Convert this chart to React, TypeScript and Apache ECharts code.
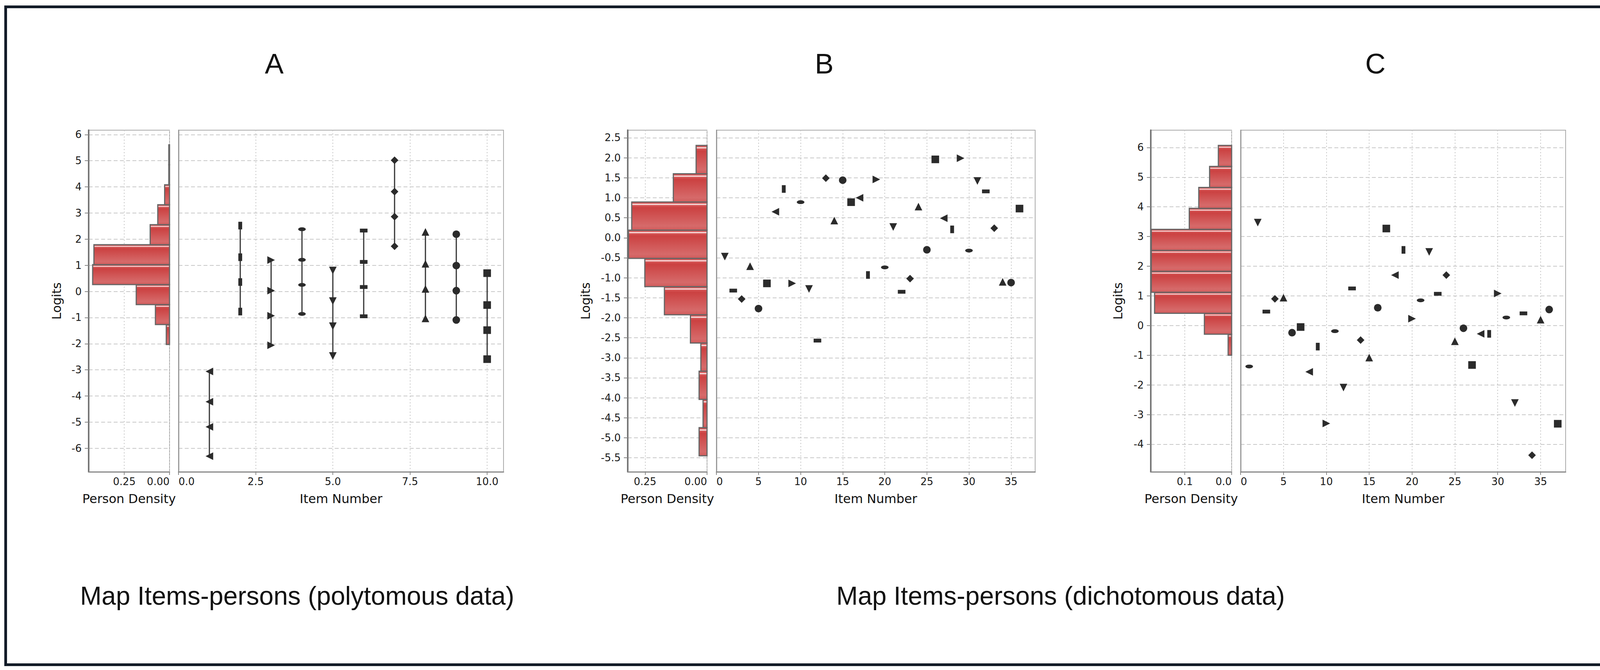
import React, { useEffect, useRef } from 'react';
import * as echarts from 'echarts';

// ---------------- DATA ----------------
// Panel A (polytomous): person density histogram
const histEdgesA = [-2.03, -1.266, -0.502, 0.262, 1.026, 1.79, 2.554, 3.318, 4.082, 4.846, 5.61];
const histDensityA = [0.018, 0.078, 0.184, 0.425, 0.418, 0.107, 0.065, 0.027, 0.004, 0.004];
// Panel A: item thresholds (4 per item)
const itemNumbersA = [1, 2, 3, 4, 5, 6, 7, 8, 9, 10];
const itemThresholdsA = [
  [-3.06, -4.22, -5.18, -6.3],
  [2.52, 1.31, 0.36, -0.77],
  [1.2, 0.03, -0.93, -2.06],
  [2.38, 1.21, 0.25, -0.86],
  [0.8, -0.37, -1.33, -2.47],
  [2.33, 1.13, 0.17, -0.95],
  [5.02, 3.82, 2.86, 1.73],
  [2.28, 1.06, 0.1, -1.03],
  [2.19, 0.99, 0.03, -1.09],
  [0.7, -0.52, -1.48, -2.59],
];

// Panel B (dichotomous)
const histEdgesB = [-5.45, -4.745, -4.04, -3.335, -2.63, -1.925, -1.22, -0.515, 0.19, 0.895, 1.6, 2.31];
const histDensityB = [0.032, 0.016, 0.032, 0.025, 0.067, 0.172, 0.251, 0.317, 0.304, 0.136, 0.044];
const itemNumbersB = [1, 2, 3, 4, 5, 6, 7, 8, 9, 10, 11, 12, 13, 14, 15, 16, 17, 18, 19, 20, 21, 22, 23, 24, 25, 26, 27, 28, 29, 30, 31, 32, 33, 34, 35, 36];
const logitsB = [-0.47, -1.32, -1.53, -0.71, -1.77, -1.14, 0.65, 1.22, -1.14, 0.89, -1.28, -2.57, 1.49, 0.43, 1.44, 0.89, 1.0, -0.93, 1.46, -0.74, 0.27, -1.35, -1.02, 0.78, -0.3, 1.96, 0.49, 0.21, 1.99, -0.32, 1.42, 1.16, 0.24, -1.1, -1.12, 0.73];

// Panel C (dichotomous)
const histEdgesC = [-1.0, -0.293, 0.414, 1.121, 1.828, 2.535, 3.242, 3.949, 4.656, 5.363, 6.07];
const histDensityC = [0.0075, 0.0582, 0.1646, 0.1716, 0.1716, 0.1716, 0.0905, 0.0702, 0.0471, 0.0284];
const itemNumbersC = [1, 2, 3, 4, 5, 6, 7, 8, 9, 10, 11, 12, 13, 14, 15, 16, 17, 18, 19, 20, 21, 22, 23, 24, 25, 26, 27, 28, 29, 30, 31, 32, 33, 34, 35, 36, 37];
const logitsC = [-1.38, 3.47, 0.47, 0.9, 0.94, -0.24, -0.05, -1.56, -0.71, -3.3, -0.19, -2.09, 1.25, -0.49, -1.08, 0.6, 3.27, 1.7, 2.55, 0.23, 0.85, 2.48, 1.07, 1.7, -0.53, -0.09, -1.33, -0.28, -0.28, 1.08, 0.27, -2.61, 0.41, -4.37, 0.2, 0.54, -3.31];

// Tick values
const yTicksA = [-6, -5, -4, -3, -2, -1, 0, 1, 2, 3, 4, 5, 6];
const yTicksB = [-5.5, -5, -4.5, -4, -3.5, -3, -2.5, -2, -1.5, -1, -0.5, 0, 0.5, 1, 1.5, 2, 2.5];
const yTicksC = [-4, -3, -2, -1, 0, 1, 2, 3, 4, 5, 6];
const densityTicksA = [0, 0.25];
const densityTicksB = [0, 0.25];
const densityTicksC = [0, 0.1];
const itemTicksA = [0, 2.5, 5, 7.5, 10];
const itemTicksB = [0, 5, 10, 15, 20, 25, 30, 35];
const itemTicksC = [0, 5, 10, 15, 20, 25, 30, 35];

// Axis ranges
const yRangeA = [-6.9, 6.17];
const yRangeB = [-5.85, 2.69];
const yRangeC = [-4.93, 6.585];
const densityMaxA = 0.447;
const densityMaxB = 0.32;
const densityMaxC = 0.1727;
const itemMaxA = 10.53;
const itemMaxB = 37.86;
const itemMaxC = 37.92;

// ---------------- STYLE ----------------
const AXIS_FONT = 'DejaVu Sans';
const TITLE_FONT = 'Liberation Sans';
const MARK = '#2b2b2b';
const S = 19.5;
const HS = 9.75;
const ELLIPSE = 'path://M-1,0A1,1,0,1,0,1,0A1,1,0,1,0,-1,0Z';
const SHAPE_SEQ = ['square', 'circle', 'upTri', 'diamond', 'hRect', 'downTri', 'hEllipse', 'rightTri', 'vRect', 'leftTri'];
const SHAPES: Record<string, [string, number[]]> = {
  square: ['rect', [S, S]],
  circle: [ELLIPSE, [S, S]],
  upTri: ['path://M0,-1L1,1L-1,1Z', [S, S]],
  diamond: ['path://M0,-1L1,0L0,1L-1,0Z', [S, S]],
  hRect: ['rect', [S, HS]],
  downTri: ['path://M-1,-1L1,-1L0,1Z', [S, S]],
  hEllipse: [ELLIPSE, [S, HS]],
  rightTri: ['path://M-1,-1L1,0L-1,1Z', [S, S]],
  vRect: ['rect', [HS, S]],
  leftTri: ['path://M1,-1L-1,0L1,1Z', [S, S]],
};
const shapeFor = (k: number, n: number) => SHAPES[SHAPE_SEQ[(n - k) % 10]];

const TOP = 333;
const HEIGHT = 874;
const panels = [
  { histLeft: 227, histW: 207, scLeft: 457, scW: 832 },
  { histLeft: 1607, histW: 203, scLeft: 1834, scW: 816 },
  { histLeft: 2946, histW: 207, scLeft: 3176, scW: 832 },
];

const barGradient = () =>
  new echarts.graphic.LinearGradient(0, 0, 0, 1, [
    { offset: 0, color: '#cf4545' },
    { offset: 0.05, color: '#d85c5c' },
    { offset: 0.085, color: '#ffffff' },
    { offset: 0.12, color: '#d65656' },
    { offset: 0.2, color: '#cb4141' },
    { offset: 0.85, color: '#d66a6a' },
    { offset: 1, color: '#d15a5a' },
  ]);

const hGrid = { color: '#c9c9c9', type: [10, 6], width: 2 };
const vGrid = { color: '#c9c9c9', type: [3, 5], width: 2 };
const labelStyle = { fontSize: 26, color: '#1a1a1a', fontFamily: AXIS_FONT };

function histAxisX(gi: number, max: number, ticks: number[], fmt: (v: number) => string) {
  return {
    gridIndex: gi, type: 'value', inverse: true, min: 0, max,
    axisLine: { show: true, onZero: false, lineStyle: { color: '#888', width: 3 } },
    axisTick: { show: true, customValues: ticks, length: 8, lineStyle: { color: '#888', width: 2 } },
    axisLabel: { show: true, customValues: ticks, formatter: fmt, margin: 12, alignMinLabel: 'right', ...labelStyle },
    splitLine: { show: true, lineStyle: vGrid },
  };
}
function histAxisY(gi: number, range: number[], ticks: number[], fmt: (v: number) => string) {
  return {
    gridIndex: gi, type: 'value', min: range[0], max: range[1],
    axisLine: { show: true, onZero: false, lineStyle: { color: '#777', width: 4 } },
    axisTick: { show: true, customValues: ticks, length: 10, lineStyle: { color: '#888', width: 2 } },
    axisLabel: { show: true, customValues: ticks, formatter: fmt, margin: 18, ...labelStyle },
    splitLine: { show: true, lineStyle: hGrid },
  };
}
function scAxisX(gi: number, max: number, ticks: number[], fmt: (v: number) => string) {
  return {
    gridIndex: gi, type: 'value', min: 0, max,
    axisLine: { show: true, onZero: false, lineStyle: { color: '#888', width: 3 } },
    axisTick: { show: true, customValues: ticks, length: 8, lineStyle: { color: '#888', width: 2 } },
    axisLabel: { show: true, customValues: ticks, formatter: fmt, margin: 12, alignMinLabel: 'left', ...labelStyle },
    splitLine: { show: true, lineStyle: vGrid },
  };
}
function scAxisY(gi: number, range: number[], ticks: number[]) {
  return {
    gridIndex: gi, type: 'value', min: range[0], max: range[1],
    axisLine: { show: true, onZero: false, lineStyle: { color: '#999', width: 3 } },
    axisTick: { show: false, customValues: ticks },
    axisLabel: { show: false, customValues: ticks },
    splitLine: { show: true, lineStyle: hGrid },
  };
}

function histSeries(gi: number, edges: number[], dens: number[]) {
  const data = dens.map((d, i) => [edges[i], edges[i + 1], d]);
  return {
    type: 'custom', xAxisIndex: gi, yAxisIndex: gi,
    encode: { x: 2, y: [0, 1] },
    data,
    renderItem: (params: any, api: any) => {
      const y0 = api.value(0), y1 = api.value(1), d = api.value(2);
      const pa = api.coord([d, y1]);
      const pb = api.coord([0, y0]);
      const x = Math.min(pa[0], pb[0]);
      const y = Math.min(pa[1], pb[1]);
      const w = Math.abs(pa[0] - pb[0]);
      const h = Math.abs(pa[1] - pb[1]);
      return {
        type: 'rect',
        shape: { x, y, width: w, height: h },
        style: { fill: barGradient(), stroke: '#666', lineWidth: 3 },
      };
    },
    z: 3,
  };
}

function scatterSeries(gi: number, xs: number[], ys: number[]) {
  const n = xs.length;
  return {
    type: 'scatter', xAxisIndex: gi, yAxisIndex: gi,
    data: xs.map((x, i) => [x, ys[i]]),
    symbol: (_v: any, p: any) => shapeFor(p.dataIndex + 1, n)[0],
    symbolSize: (_v: any, p: any) => shapeFor(p.dataIndex + 1, n)[1],
    itemStyle: { color: MARK, opacity: 1 },
    z: 4,
  };
}

const fmtInt = (v: number) => String(Math.round(v));
const fmt1 = (v: number) => v.toFixed(1);
const fmt2 = (v: number) => v.toFixed(2);

function buildOption() {
  const grids: any[] = [];
  panels.forEach((p) => {
    grids.push({ left: p.histLeft, top: TOP, width: p.histW, height: HEIGHT, show: true, borderColor: '#aaa', borderWidth: 2, containLabel: false });
    grids.push({ left: p.scLeft, top: TOP, width: p.scW, height: HEIGHT, show: true, borderColor: '#aaa', borderWidth: 2, containLabel: false });
  });

  const xAxis = [
    histAxisX(0, densityMaxA, densityTicksA, fmt2),
    scAxisX(1, itemMaxA, itemTicksA, fmt1),
    histAxisX(2, densityMaxB, densityTicksB, fmt2),
    scAxisX(3, itemMaxB, itemTicksB, fmtInt),
    histAxisX(4, densityMaxC, densityTicksC, fmt1),
    scAxisX(5, itemMaxC, itemTicksC, fmtInt),
  ];
  const yAxis = [
    histAxisY(0, yRangeA, yTicksA, fmtInt),
    scAxisY(1, yRangeA, yTicksA),
    histAxisY(2, yRangeB, yTicksB, fmt1),
    scAxisY(3, yRangeB, yTicksB),
    histAxisY(4, yRangeC, yTicksC, fmtInt),
    scAxisY(5, yRangeC, yTicksC),
  ];

  const series: any[] = [];
  series.push(histSeries(0, histEdgesA, histDensityA));
  itemThresholdsA.forEach((ys, i) => {
    const sh = shapeFor(i + 1, itemNumbersA.length);
    series.push({
      type: 'line', xAxisIndex: 1, yAxisIndex: 1,
      data: ys.map((y) => [itemNumbersA[i], y]),
      symbol: sh[0], symbolSize: sh[1], showSymbol: true, showAllSymbol: true,
      lineStyle: { color: '#333', width: 3 },
      itemStyle: { color: MARK, opacity: 1 },
      z: 4,
    });
  });
  series.push(histSeries(2, histEdgesB, histDensityB));
  series.push(scatterSeries(3, itemNumbersB, logitsB));
  series.push(histSeries(4, histEdgesC, histDensityC));
  series.push(scatterSeries(5, itemNumbersC, logitsC));

  const txt = (text: string, x: number, y: number, size: number, family: string, align = 'center', rotation = 0) => ({
    type: 'text', x, y, rotation, z: 10,
    style: { text, fontSize: size, fontFamily: family, fill: '#111', align, verticalAlign: 'middle' },
  });

  const graphics: any[] = [
    { type: 'rect', shape: { x: 14.5, y: 17.5, width: 4089, height: 1683 }, style: { fill: 'none', stroke: '#131c28', lineWidth: 7 }, z: 10 },
    txt('A', 702, 163, 72, TITLE_FONT),
    txt('B', 2110, 163, 72, TITLE_FONT),
    txt('C', 3521, 163, 72, TITLE_FONT),
    txt('Map Items-persons (polytomous data)', 205, 1524, 66, TITLE_FONT, 'left'),
    txt('Map Items-persons (dichotomous data)', 2141, 1524, 66, TITLE_FONT, 'left'),
    txt('Logits', 145, 770, 32, AXIS_FONT, 'center', Math.PI / 2),
    txt('Logits', 1499, 770, 32, AXIS_FONT, 'center', Math.PI / 2),
    txt('Logits', 2862, 770, 32, AXIS_FONT, 'center', Math.PI / 2),
  ];
  panels.forEach((p) => {
    graphics.push(txt('Person Density', p.histLeft + p.histW / 2, 1276, 32, AXIS_FONT));
    graphics.push(txt('Item Number', p.scLeft + p.scW / 2, 1276, 32, AXIS_FONT));
  });

  return {
    animation: false,
    backgroundColor: '#ffffff',
    grid: grids,
    xAxis,
    yAxis,
    series,
    graphic: graphics,
  };
}

export default function App() {
  const ref = useRef<HTMLDivElement>(null);
  useEffect(() => {
    if (!ref.current) return;
    const chart = echarts.init(ref.current, undefined, { renderer: 'svg' });
    chart.setOption(buildOption() as any);
    return () => chart.dispose();
  }, []);
  return (
    <div
      ref={ref}
      style={{ position: 'fixed', left: 0, top: 0, width: 4120, height: 1714, background: '#fff' }}
    />
  );
}
